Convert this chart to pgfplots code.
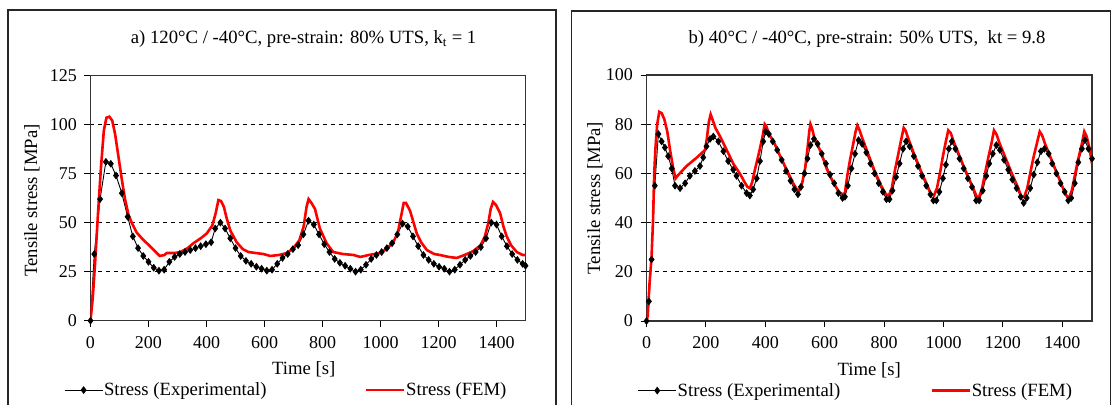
\documentclass[border=0pt]{standalone}
\usepackage{fontspec}
\setmainfont{Liberation Serif}
\usepackage{pgfplots}
\pgfplotsset{compat=1.18}

\pgfplotstableread{
t v
0 0
13 34
33 62
53 81
70 80
88 74
108 65
128 53
146 43
164 37
182 33
200 30
218 27
236 25.5
254 26
272 30
290 32.5
308 34
326 35
344 36
362 37
380 38
398 39
416 40
430 47
448 50
464 47
482 42
500 37
518 33
536 30.5
554 29
572 27.5
590 26.5
608 25.5
626 26
644 29
662 32
680 34
698 36.5
716 38.5
734 44
752 51
770 49
788 44
806 39
824 35
842 31.5
860 29.5
878 28
896 26.5
914 25
932 26
950 28.5
968 31.5
986 33.5
1004 35
1022 37
1040 39.5
1058 44
1076 49.5
1094 48
1112 43
1130 38
1148 33.5
1166 31
1184 29
1202 27.5
1220 26.5
1238 25
1256 26
1274 28.5
1292 31
1310 33
1328 35
1346 37.5
1364 42
1382 50
1400 49
1418 43
1436 38
1454 34
1472 31
1490 29
1500 28
}\expA

\pgfplotstableread{
t v
0 0
8 12
16 30
26 55
36 78
46 97
55 103.5
65 104
75 102
85 95
96 84
108 72
119 62
131 54
142 50
159 45
180 41.5
205 38
225 35
239 33
255 33.5
263 34.5
290 34.5
310 35
335 37
355 39.5
380 42
401 44.5
420 48.5
432 55
441 61.5
450 61
460 58
470 52
482 46
504 40
525 36.5
545 35
570 34.5
596 34
620 33
650 33.5
677 34.5
700 37
720 41
735 48
745 58
752 62
762 60
774 57
791 47
814 39.5
837 35
870 34
907 33.5
930 32.5
960 33.5
998 34.5
1020 36.5
1044 40
1060 45
1072 54
1080 60
1088 60
1102 56
1114 50
1125 44.5
1140 40
1160 36
1185 34
1205 33.5
1235 32.5
1263 32
1290 33.5
1320 35.5
1345 38.5
1360 43
1372 50
1380 57
1388 60.5
1398 59
1412 55
1424 48
1435 43
1450 38.5
1470 35
1490 33.5
1500 33.5
}\femA

\pgfplotstableread{
t v
0 0
8 8
17 25
28 55
40 76
51 73
62 70.5
73 67
85 62
96 55
113 54
130 56
146 59
163 61
180 63
191 66.5
202 71
214 74
225 75
242 73
259 69
275 65
292 61.5
303 59
320 55
337 52
348 51
359 53.5
371 58
382 65
393 73
401 77
412 76
425 73
440 69.5
455 65.5
470 61
485 57
498 53.5
510 51.5
520 54.5
532 60
542 66
552 71.5
564 74
576 72
590 68
604 64
618 59.5
632 56
646 52
660 50
668 50.5
678 55
690 62
702 68
714 73.5
726 72
740 68.5
754 64
768 60
782 56
796 52.5
808 49.5
818 49.5
828 53
840 58.5
852 64
864 70
874 73
886 71
900 67
914 63
928 59
942 55
956 51.5
966 49
976 49
986 52.5
998 58
1008 63.5
1018 70
1028 73
1040 70
1054 66
1068 62
1082 58
1096 54.5
1110 49
1120 49
1132 53
1144 59
1154 64
1166 68
1178 71.5
1190 69.5
1204 65.5
1218 61.5
1232 57.5
1246 54
1260 50.5
1270 48
1280 50
1292 54
1304 59.5
1316 64.5
1328 69
1340 70
1354 68
1366 64
1380 60
1394 56
1408 52.5
1420 49
1430 50
1442 56
1454 64.5
1466 70
1476 73.5
1488 70
1500 66
}\expB

\pgfplotstableread{
t v
0 0
4 2
10 15
17 26
22 41
26 60
30 70
36 80
43 85
51 84.5
60 82
70 77
80 69
90 62
98 58
108 59.5
135 63
170 66.5
197 69.5
203 74
210 81
216 84
222 82
232 78.5
250 74.5
270 69.5
292 64
314 60
330 56.5
340 54.5
348 54
356 56.5
366 62
378 68
390 74.5
398 80
404 79
412 76
428 73
450 67
472 61.5
494 56
506 53.5
514 53
524 56
534 62
542 70
548 77
552 80
558 78
566 74
586 69
608 61.5
630 56
648 52.5
660 51.5
668 52
676 59
686 66
696 72
704 77
710 79.5
716 78
726 74.5
746 68
768 61
790 55
806 51.5
816 51
826 54
836 61
848 68
858 74
866 78.5
872 77.5
882 74
902 67.5
924 61
946 55
958 51.5
968 51
978 54
988 60
998 67
1008 73
1016 77.5
1024 76.5
1034 73
1054 67
1076 60.5
1098 54.5
1112 50.5
1120 50.5
1130 54
1140 60
1150 66
1162 72.5
1170 77.5
1178 76
1188 72.5
1208 66.5
1230 60
1250 54.5
1262 50.5
1272 50.5
1282 54
1292 60
1302 66
1314 72
1324 77
1332 75.5
1342 72
1362 66
1384 59.5
1404 53.5
1416 50.5
1424 50.5
1432 53
1442 59
1452 65
1464 71
1474 77
1482 75
1492 70
1500 64
}\femB

\pgfplotsset{
  panel/.style={
    scale only axis,
    anchor=south west,
    xmin=0, xmax=1500,
    xtick={0,200,...,1400},
    tick pos=left,
    tick align=outside,
    major tick length=6pt,
    every tick/.style={black, line width=0.9pt},
    axis line style={black!80, line width=1.1pt},
    ymajorgrids,
    major grid style={black, line width=0.9pt, dash pattern=on 4pt off 4pt},
    /pgf/number format/assume math mode=true,
    /pgf/number format/set thousands separator={},
    ticklabel style={font=\fontsize{18}{20}\selectfont},
    xticklabel style={yshift=-6pt},
    yticklabel style={xshift=-4pt},
    label style={font=\fontsize{18.7}{21}\selectfont},
    title style={font=\fontsize{18.7}{21}\selectfont, anchor=center},
    xlabel={Time [s]},
    ylabel={Tensile stress [MPa]},
    legend columns=2,
    legend style={draw=none, fill=none, anchor=west,
      font=\fontsize{18.7}{21}\selectfont,
      inner sep=0pt, nodes={inner xsep=1pt, inner ysep=1pt}},
    legend cell align=left,
    legend image code/.code={\draw[mark repeat=2,mark phase=2,##1] plot coordinates {(0pt,0pt) (19pt,0pt) (38pt,0pt)};},
    exp/.style={black, line width=0.9pt, mark=diamond*, mark size=3.2pt, mark options={solid, fill=black}},
    fem/.style={red, line width=2.6pt, no marks},
  }
}

\begin{document}
\begin{tikzpicture}[x=1pt,y=1pt]
\useasboundingbox (0,0) rectangle (1112,405);
\draw[black!85, line width=1.2pt] (8,0) -- (8,395) -- (556,395) -- (556,0);
\draw[black!85, line width=1.2pt] (571.5,0) -- (571.5,394) -- (1110.5,394) -- (1110.5,0);

\begin{axis}[panel,
  at={(90.5pt,84.3pt)}, width=435pt, height=245.2pt,
  ymin=0, ymax=125, ytick={0,25,50,75,100,125},
  title={a) 120\textdegree C / -40\textdegree C, pre-strain: 80\% UTS, k$_{\mathrm{t}}$ = 1},
  title style={at={(axis description cs:0.49,1.124)}},
  xlabel style={at={(axis description cs:0.49,-0.2)}, anchor=center},
  ylabel style={at={(axis description cs:-0.1345,0.49)}, anchor=center},
  legend style={at={(axis description cs:-0.061,-0.283)},
    /tikz/every even column/.append style={column sep=97pt}},
]
\addplot[exp] table[x=t,y=v] {\expA};
\addlegendentry{Stress (Experimental)}
\addplot[fem] table[x=t,y=v] {\femA};
\addlegendentry{Stress (FEM)}
\end{axis}

\begin{axis}[panel,
  at={(646.5pt,84pt)}, width=445.5pt, height=246pt,
  ymin=0, ymax=100, ytick={0,20,...,100},
  title={b) 40\textdegree C / -40\textdegree C, pre-strain: 50\% UTS,\ \ kt = 9.8},
  title style={at={(axis description cs:0.495,1.121)}},
  xlabel style={at={(axis description cs:0.5,-0.2)}, anchor=center},
  ylabel style={at={(axis description cs:-0.1156,0.5)}, anchor=center},
  legend style={at={(axis description cs:-0.02,-0.283)},
    /tikz/every even column/.append style={column sep=89pt}},
]
\addplot[exp] table[x=t,y=v] {\expB};
\addlegendentry{Stress (Experimental)}
\addplot[fem] table[x=t,y=v] {\femB};
\addlegendentry{Stress (FEM)}
\end{axis}
\end{tikzpicture}
\end{document}
